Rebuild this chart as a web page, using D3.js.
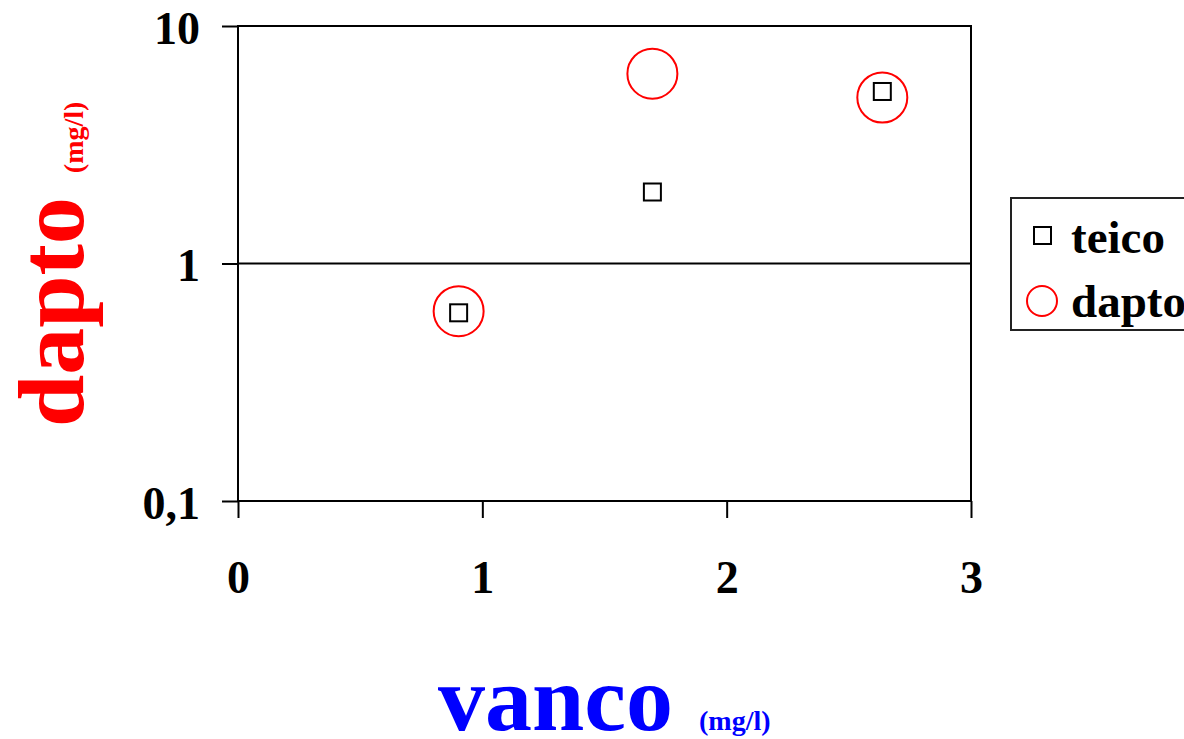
<!DOCTYPE html>
<html>
<head>
<meta charset="utf-8">
<script src="https://cdn.jsdelivr.net/npm/d3@7"></script>
<style>
  body { margin: 0; background: #fff; }
  svg { display: block; font-family: "Liberation Serif", "Times New Roman", serif; font-weight: bold; }
</style>
</head>
<body>
<svg width="1184" height="739"></svg>
<script>
// vanco (x) and measured values for the two series
const vanco = [0.903, 1.696, 2.637];
const teico = [0.62, 2.0, 5.3];
const dapto = [0.63, 6.3, 5.0];

const xTicks = [0, 1, 2, 3];
const yTicks = [0.1, 1, 10];
const yTickLabels = ['0,1', '1', '10'];

const svg = d3.select('svg');

const plotLeft = 238, plotRight = 971, plotTop = 26, plotBottom = 501;

const x = d3.scaleLinear().domain([0, 3]).range([plotLeft, plotRight]);
const y = d3.scaleLog().domain([0.1, 10]).range([plotBottom, plotTop]);

// frame
svg.append('rect')
    .attr('x', plotLeft).attr('y', plotTop)
    .attr('width', plotRight - plotLeft).attr('height', plotBottom - plotTop)
    .attr('fill', 'none').attr('stroke', '#000').attr('stroke-width', 2);

// gridline at 1
svg.append('line')
    .attr('x1', plotLeft).attr('x2', plotRight)
    .attr('y1', y(1)).attr('y2', y(1))
    .attr('stroke', '#000').attr('stroke-width', 2);

// y axis
const yAxis = d3.axisLeft(y)
    .tickValues(yTicks)
    .tickSize(16)
    .tickPadding(22)
    .tickFormat((d, i) => yTickLabels[i]);

const gy = svg.append('g').attr('transform', `translate(${plotLeft},0)`).call(yAxis);
gy.select('.domain').remove();
gy.selectAll('line').attr('stroke', '#000').attr('stroke-width', 2);
gy.selectAll('text')
    .attr('font-size', 46).attr('font-family', '"Liberation Serif", serif')
    .attr('font-weight', 'bold').attr('fill', '#000').attr('dy', '0.38em');

// x axis
const xAxis = d3.axisBottom(x)
    .tickValues(xTicks)
    .tickSize(17)
    .tickPadding(42)
    .tickFormat(d3.format('d'));

const gx = svg.append('g').attr('transform', `translate(0,${plotBottom})`).call(xAxis);
gx.select('.domain').remove();
gx.selectAll('line').attr('stroke', '#000').attr('stroke-width', 2);
gx.selectAll('text')
    .attr('font-size', 46).attr('font-family', '"Liberation Serif", serif')
    .attr('font-weight', 'bold').attr('fill', '#000');

// dapto circles
svg.append('g').selectAll('circle')
    .data(vanco.map((v, i) => [v, dapto[i]]))
    .join('circle')
    .attr('cx', d => x(d[0]))
    .attr('cy', d => y(d[1]))
    .attr('r', 25)
    .attr('fill', 'none')
    .attr('stroke', '#ff0000')
    .attr('stroke-width', 2);

// teico squares
const sq = 17;
svg.append('g').selectAll('rect')
    .data(vanco.map((v, i) => [v, teico[i]]))
    .join('rect')
    .attr('x', d => x(d[0]) - sq / 2)
    .attr('y', d => y(d[1]) - sq / 2)
    .attr('width', sq).attr('height', sq)
    .attr('fill', 'none')
    .attr('stroke', '#000')
    .attr('stroke-width', 2);

// legend
const legend = svg.append('g');
legend.append('rect')
    .attr('x', 1011).attr('y', 198)
    .attr('width', 200).attr('height', 132)
    .attr('fill', '#fff').attr('stroke', '#222').attr('stroke-width', 2);
legend.append('rect')
    .attr('x', 1034).attr('y', 227)
    .attr('width', 17).attr('height', 17)
    .attr('fill', 'none').attr('stroke', '#000').attr('stroke-width', 2);
legend.append('circle')
    .attr('cx', 1042).attr('cy', 301).attr('r', 15)
    .attr('fill', 'none').attr('stroke', '#ff0000').attr('stroke-width', 2);
legend.append('text')
    .attr('x', 1071).attr('y', 253)
    .attr('font-size', 47).text('teico');
legend.append('text')
    .attr('x', 1071).attr('y', 317)
    .attr('font-size', 47).text('dapto');

// x title
const xt = svg.append('text')
    .attr('x', 438).attr('y', 730)
    .attr('fill', '#0000ff');
xt.append('tspan').attr('font-size', 94).text('vanco');
xt.append('tspan').attr('font-size', 28).attr('dx', 26).text('(mg/l)');

// y title
const yt = svg.append('text')
    .attr('transform', 'translate(83,427) rotate(-90)')
    .attr('fill', '#ff0000');
yt.append('tspan').attr('font-size', 94).text('dapto');
yt.append('tspan').attr('font-size', 28).attr('dx', 24).text('(mg/l)');
</script>
</body>
</html>
